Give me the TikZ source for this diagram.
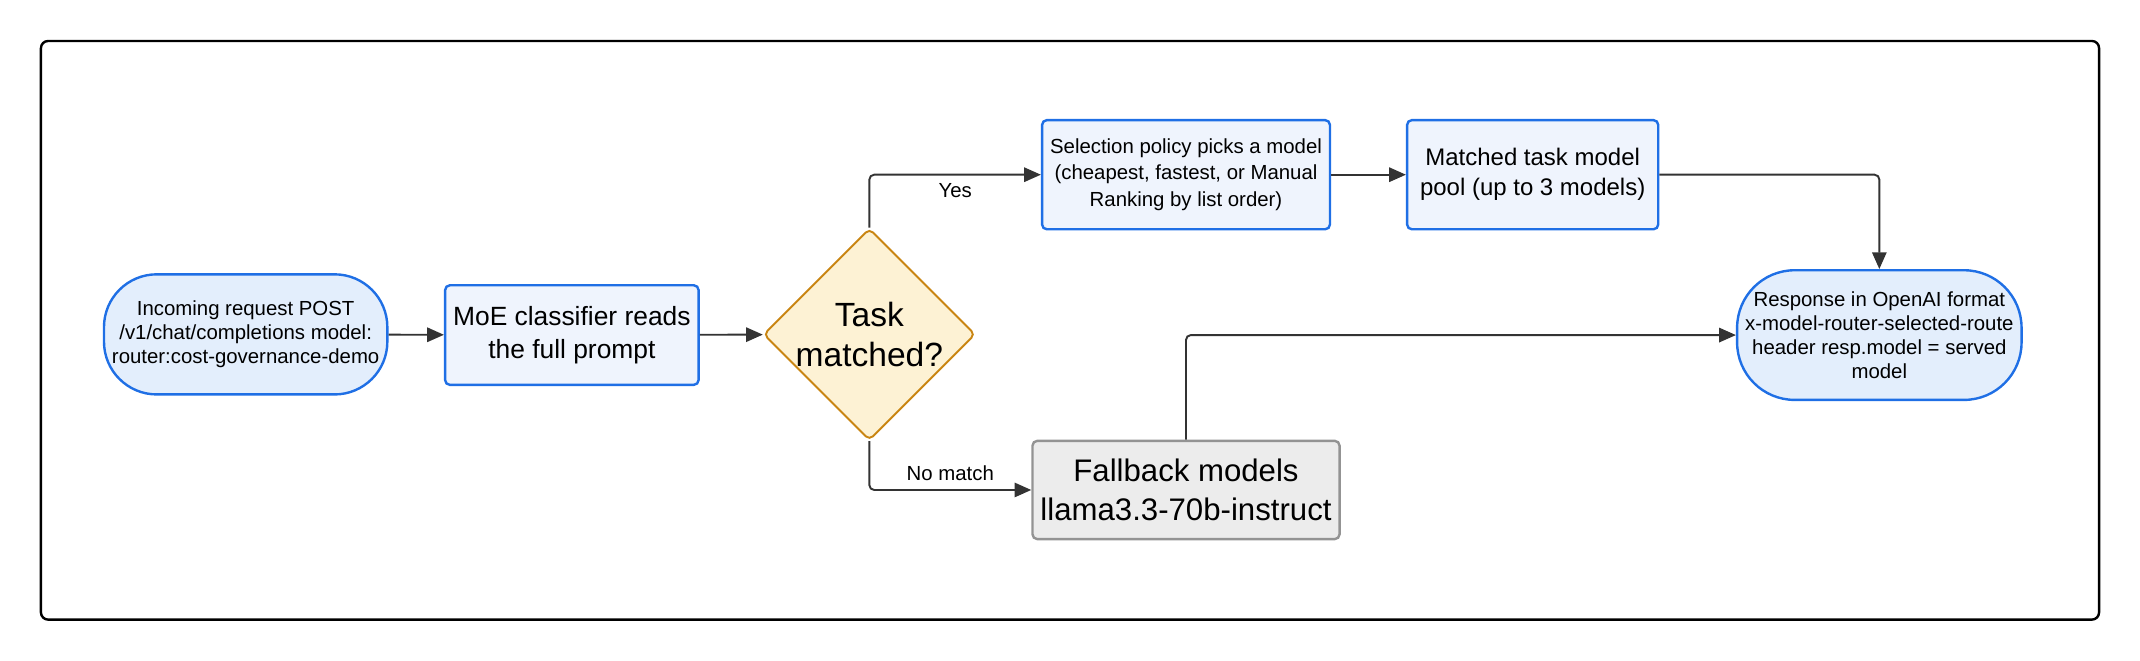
\documentclass[tikz,border=0pt]{standalone}
\usepackage{fontspec}
\setmainfont{Liberation Sans}
\usetikzlibrary{shapes.geometric,arrows.meta}
\definecolor{edgeblue}{HTML}{1F6FE5}
\definecolor{fillstart}{HTML}{E3EEFC}
\definecolor{fillbox}{HTML}{EFF4FD}
\definecolor{edgeorange}{HTML}{C98512}
\definecolor{filldec}{HTML}{FDF2D4}
\definecolor{linegray}{HTML}{333333}
\tikzset{
  terminal/.style={draw=edgeblue,fill=fillstart,line width=1pt,rounded corners=22pt,align=center,font=\fontsize{8.5}{10}\selectfont},
  process/.style={draw=edgeblue,fill=fillbox,line width=1pt,rounded corners=2pt,align=center},
  decision/.style={diamond,draw=edgeorange,fill=filldec,line width=0.8pt,rounded corners=2pt,align=center,font=\fontsize{14}{16.5}\selectfont,inner sep=0pt},
  flow/.style={draw=linegray,line width=0.8pt,-{Triangle[length=7pt,width=6pt]},rounded corners=2pt}
}
\begin{document}
\begin{tikzpicture}[x=0.02cm,y=-0.02cm]
\useasboundingbox (0,0) rectangle (1568,484);
\draw[line width=1pt,rounded corners=3pt] (30,30) rectangle (1538,454);

\node[terminal,minimum width=184*0.02cm,minimum height=88*0.02cm] (start) at (180,245) {Incoming request POST\\/v1/chat/completions model:\\router:cost-governance-demo};
\node[process,minimum width=176*0.02cm,minimum height=73*0.02cm,font=\fontsize{11}{13.5}\selectfont] (moe) at (419,245.5) {MoE classifier reads\\the full prompt};
\node[decision,minimum width=136*0.02cm,minimum height=102*0.02cm] (task) at (637,245) {Task\\matched?};
\node[process,minimum width=204*0.02cm,minimum height=80*0.02cm,font=\fontsize{8.5}{11}\selectfont] (policy) at (869,128) {Selection policy picks a model\\(cheapest, fastest, or Manual\\Ranking by list order)};
\node[process,minimum width=184*0.02cm,minimum height=80*0.02cm,font=\fontsize{10}{12.5}\selectfont] (pool) at (1123,128) {Matched task model\\pool (up to 3 models)};
\node[process,draw=gray!85,fill=gray!15,minimum width=204*0.02cm,minimum height=72*0.02cm,font=\fontsize{13}{16}\selectfont] (fallback) at (869,359) {Fallback models\\llama3.3-70b-instruct};
\node[terminal,rounded corners=24pt,minimum width=205*0.02cm,minimum height=95*0.02cm] (resp) at (1377,245.5) {Response in OpenAI format\\x-model-router-selected-route\\header resp.model = served\\model};

\draw[flow] (start) -- (moe);
\draw[flow] (moe) -- (task);
\draw[flow] (task.north) |- node[pos=0.75,below,font=\fontsize{8.5}{10}\selectfont] {Yes} (policy);
\draw[flow] (task.south) |- node[pos=0.75,above,font=\fontsize{8.5}{10}\selectfont] {No match} (fallback);
\draw[flow] (policy) -- (pool);
\draw[flow] (pool.east) -| (resp.north);
\draw[flow] (fallback.north) |- (resp.west);
\end{tikzpicture}
\end{document}
